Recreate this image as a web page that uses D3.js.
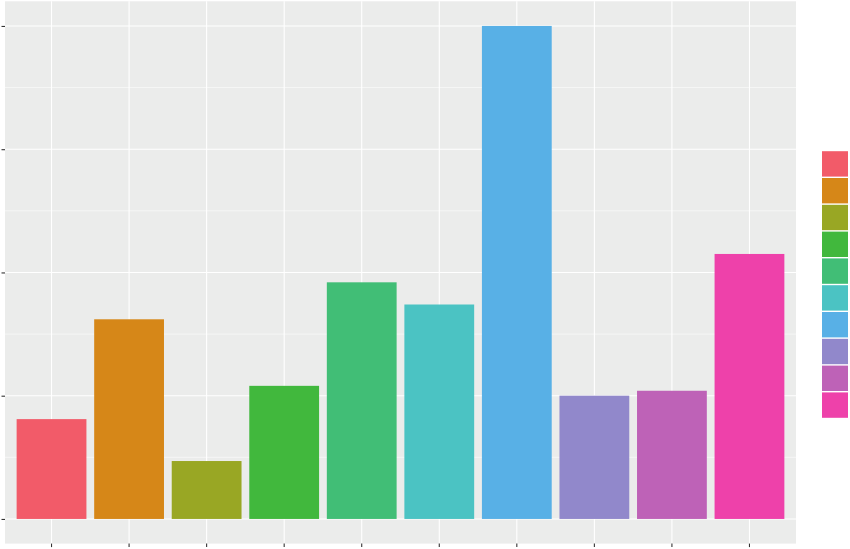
<!DOCTYPE html>
<html><head><meta charset="utf-8">
<script src="https://cdn.jsdelivr.net/npm/d3@7"></script>
<style>body{margin:0;background:#fff}svg{display:block}</style>
</head><body>
<svg id="c" width="850" height="549"></svg>
<script>
const categories = ["A","B","C","D","E","F","G","H","I","J"];
const values = [0.81, 1.62, 0.47, 1.08, 1.92, 1.74, 4.0, 1.0, 1.04, 2.15];
const colors = ["#F25B69","#D68718","#99A724","#41B83D","#41BE76","#4BC3C3","#58B0E6","#9188CB","#BE62B7","#EE41AA"];
const yTicks = [0, 1, 2, 3, 4];
const yMinor = [0.5, 1.5, 2.5, 3.5];

const svg = d3.select("#c");
const L = 5, R = 796, T = 1.3, B = 543.6;
const n = categories.length;
const band = (R - L) / (n + 0.2);
const x = d3.scaleBand().domain(categories)
  .range([L + 0.1*band, R - 0.1*band]).paddingInner(0.1).paddingOuter(0.05);
const y = d3.scaleLinear().domain([-0.2, 4.2]).range([B, T]);
const cx = c => x(c) + x.bandwidth()/2;

svg.append("rect").attr("x", L).attr("y", T).attr("width", R-L).attr("height", B-T).attr("fill", "#EBECEB");
svg.selectAll(".ymin").data(yMinor).join("line")
  .attr("x1", L).attr("x2", R).attr("y1", d=>y(d)).attr("y2", d=>y(d))
  .attr("stroke", "#fff").attr("stroke-width", 0.55);
svg.selectAll(".ymaj").data(yTicks).join("line")
  .attr("x1", L).attr("x2", R).attr("y1", d=>y(d)).attr("y2", d=>y(d))
  .attr("stroke", "#fff").attr("stroke-width", 1.1);
svg.selectAll(".xmaj").data(categories).join("line")
  .attr("y1", T).attr("y2", B).attr("x1", d=>cx(d)).attr("x2", d=>cx(d))
  .attr("stroke", "#fff").attr("stroke-width", 1.1);

svg.selectAll(".bar").data(values).join("rect")
  .attr("x", (d,i)=>x(categories[i])).attr("width", x.bandwidth())
  .attr("y", d=>y(d)).attr("height", d=>y(0)-y(d))
  .attr("fill", (d,i)=>colors[i]);

// axes (ticks only, no labels visible)
const ya = svg.append("g").attr("transform", `translate(${L},0)`)
  .call(d3.axisLeft(y).tickValues(yTicks).tickSize(3.5).tickFormat(""));
ya.select(".domain").remove();
ya.selectAll("line").attr("stroke", "#333").attr("stroke-width", 1.1);
const xa = svg.append("g").attr("transform", `translate(0,${B})`)
  .call(d3.axisBottom(x).tickSize(3.5).tickFormat(""));
xa.select(".domain").remove();
xa.selectAll("line").attr("stroke", "#333").attr("stroke-width", 1.1);

// legend
const keyH = 26.8, keyW = 26, lx = 822, ly = 150.5;
svg.selectAll(".key").data(categories).join("rect")
  .attr("x", lx).attr("y", (d,i)=>ly + i*keyH + 0.7)
  .attr("width", keyW).attr("height", keyH - 1.4)
  .attr("fill", (d,i)=>colors[i]);
</script>
</body></html>
